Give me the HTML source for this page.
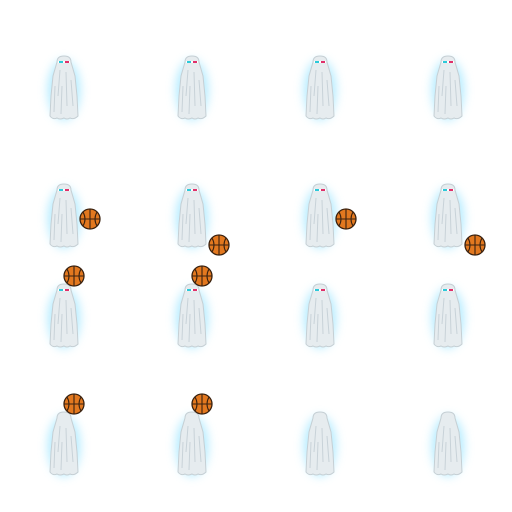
<!DOCTYPE html>
<html><head><meta charset="utf-8"><style>html,body{margin:0;padding:0;background:#fff;width:512px;height:512px;overflow:hidden}</style></head>
<body>
<svg width="512" height="512" viewBox="0 0 512 512" xmlns="http://www.w3.org/2000/svg">
<defs>
<filter id="blur" x="-1" y="-1" width="3" height="3"><feGaussianBlur stdDeviation="5"/></filter>
<g id="ghost">
<ellipse cx="0" cy="34" rx="16" ry="30" fill="#9fe6ff" opacity="0.8" filter="url(#blur)"/>
<path d="M-7,6 Q-7,0 0,0 Q7,0 7,6 L11,20 L13,40 L14,60 Q10,64 6,62 Q3,64 0,62 Q-4,64 -7,62 Q-11,64 -14,60 L-13,40 L-11,20 Z" fill="#e6ecef" stroke="#c5cfd4" stroke-width="1"/>
<path d="M-4,14 L-6,40 M2,16 L3,50 M7,24 L9,50 M-9,30 L-10,56 M-2,30 L-3,58" stroke="#c8d2d8" stroke-width="1" fill="none"/>
</g>
<g id="glasses"><rect x="-6" y="5" width="12" height="2" fill="#fff"/><rect x="-5" y="5" width="4" height="2" fill="#2cc9d9"/><rect x="1" y="5" width="4" height="2" fill="#e0306a"/></g>
<g id="ball"><circle r="10" fill="#e2781f" stroke="#3a2210" stroke-width="1.3"/><path d="M-10,0 H10 M0,-10 V10 M-7,-7 Q-3,0 -7,7 M7,-7 Q3,0 7,7" stroke="#3a2210" stroke-width="1.1" fill="none"/></g>
</defs>
<g>
<g transform="translate(64,56)"><use href="#ghost"/><use href="#glasses"/></g>
<g transform="translate(192,56)"><use href="#ghost"/><use href="#glasses"/></g>
<g transform="translate(320,56)"><use href="#ghost"/><use href="#glasses"/></g>
<g transform="translate(448,56)"><use href="#ghost"/><use href="#glasses"/></g>
</g>
<g>
<g transform="translate(64,184)"><use href="#ghost"/><use href="#glasses"/></g>
<g transform="translate(192,184)"><use href="#ghost"/><use href="#glasses"/></g>
<g transform="translate(320,184)"><use href="#ghost"/><use href="#glasses"/></g>
<g transform="translate(448,184)"><use href="#ghost"/><use href="#glasses"/></g>
<use href="#ball" x="90" y="219"/><use href="#ball" x="219" y="245"/><use href="#ball" x="346" y="219"/><use href="#ball" x="475" y="245"/>
</g>
<g>
<g transform="translate(64,284)"><use href="#ghost"/><use href="#glasses"/></g>
<g transform="translate(192,284)"><use href="#ghost"/><use href="#glasses"/></g>
<g transform="translate(320,284)"><use href="#ghost"/><use href="#glasses"/></g>
<g transform="translate(448,284)"><use href="#ghost"/><use href="#glasses"/></g>
<use href="#ball" x="74" y="276"/><use href="#ball" x="202" y="276"/>
</g>
<g>
<g transform="translate(64,412)"><use href="#ghost"/></g>
<g transform="translate(192,412)"><use href="#ghost"/></g>
<g transform="translate(320,412)"><use href="#ghost"/></g>
<g transform="translate(448,412)"><use href="#ghost"/></g>
<use href="#ball" x="74" y="404"/><use href="#ball" x="202" y="404"/>
</g>
</svg>
</body></html>
